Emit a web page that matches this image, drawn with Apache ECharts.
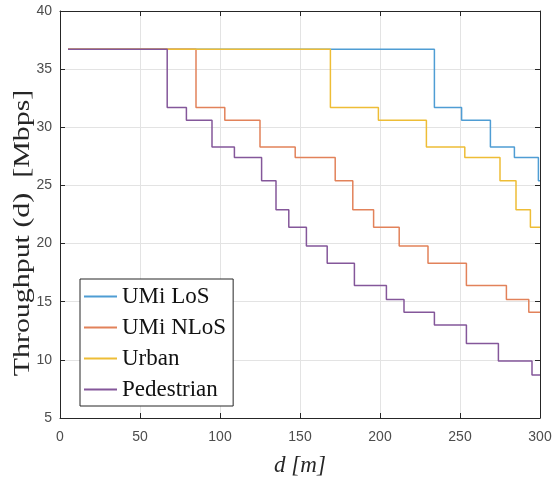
<!DOCTYPE html>
<html>
<head>
<meta charset="utf-8">
<script src="https://cdn.jsdelivr.net/npm/echarts@6/dist/echarts.min.js"></script>
<style>
  html, body { margin: 0; padding: 0; background: #ffffff; }
  #chart { width: 552px; height: 481px; }
</style>
</head>
<body>
<div id="chart"></div>
<script>
// Series names
const seriesNames = ['UMi LoS', 'UMi NLoS', 'Urban', 'Pedestrian'];

// Distance [m] at which each throughput level begins (last entry closes the curve at 300 m)
const losDist   = [5, 234, 251, 269, 284, 299, 300];
const losTput   = [36.7, 31.7, 30.6, 28.3, 27.4, 25.4, 25.4];

const nlosDist  = [5, 85, 103, 125, 147, 172, 183, 196, 212, 230, 254, 279, 293, 300];
const nlosTput  = [36.7, 31.7, 30.6, 28.3, 27.4, 25.4, 22.9, 21.4, 19.8, 18.3, 16.4, 15.2, 14.1, 14.1];

const urbanDist = [5, 169, 199, 229, 253, 275, 285, 294, 300];
const urbanTput = [36.7, 31.7, 30.6, 28.3, 27.4, 25.4, 22.9, 21.4, 21.4];

const pedDist   = [5, 67, 79, 95, 109, 126, 135, 143, 154, 167, 184, 204, 215, 234, 254, 274, 295, 300];
const pedTput   = [36.7, 31.7, 30.6, 28.3, 27.4, 25.4, 22.9, 21.4, 19.8, 18.3, 16.4, 15.2, 14.1, 13.0, 11.4, 9.9, 8.7, 8.7];

// Axis tick values
const xTicks = [0, 50, 100, 150, 200, 250, 300];
const yTicks = [5, 10, 15, 20, 25, 30, 35, 40];

// Axis titles
const xTitle = 'd [m]';
const yTitle = 'Throughput (d)  [Mbps]';

const colors = ['#4f9dd4', '#e2825a', '#eebd36', '#84579a'];

function pairs(xs, ys) { return xs.map((x, i) => [x, ys[i]]); }

const curves = [
  pairs(losDist, losTput),
  pairs(nlosDist, nlosTput),
  pairs(urbanDist, urbanTput),
  pairs(pedDist, pedTput)
];

const serif = 'Liberation Serif, Times New Roman, serif';
const tickFont = { fontFamily: 'Liberation Sans, Arial, sans-serif', fontSize: 14, color: '#4d4d4d' };
const axisCol = '#262626';
const gridCol = '#e3e3e3';

const chart = echarts.init(document.getElementById('chart'), null, { renderer: 'canvas' });

const xBase = {
  type: 'value', min: xTicks[0], max: xTicks[xTicks.length - 1], interval: 50,
  axisLine: { show: true, onZero: false, lineStyle: { color: axisCol, width: 1 } },
  axisTick: { show: true, inside: true, length: 5, lineStyle: { color: axisCol } }
};
const yBase = {
  type: 'value', min: yTicks[0], max: yTicks[yTicks.length - 1], interval: 5,
  axisLine: { show: true, onZero: false, lineStyle: { color: axisCol, width: 1 } },
  axisTick: { show: true, inside: true, length: 5, lineStyle: { color: axisCol } }
};

chart.setOption({
  animation: false,
  backgroundColor: '#ffffff',
  color: colors,
  grid: { left: 60, top: 11, width: 480, height: 407, containLabel: false, outerBoundsMode: 'none' },
  xAxis: [
    Object.assign({}, xBase, {
      position: 'bottom',
      name: xTitle,
      nameLocation: 'middle',
      nameGap: 36,
      nameMoveOverlap: false,
      nameTextStyle: { fontFamily: serif, fontStyle: 'italic', fontSize: 23, color: '#262626' },
      axisLabel: Object.assign({ margin: 12 }, tickFont),
      splitLine: { show: true, lineStyle: { color: gridCol, width: 1 } }
    }),
    Object.assign({}, xBase, {
      position: 'top',
      axisLabel: { show: false },
      splitLine: { show: false }
    })
  ],
  yAxis: [
    Object.assign({}, yBase, {
      position: 'left',
      axisLabel: Object.assign({ margin: 8 }, tickFont),
      splitLine: { show: true, lineStyle: { color: gridCol, width: 1 } }
    }),
    Object.assign({}, yBase, {
      position: 'right',
      axisLabel: { show: false },
      splitLine: { show: false }
    })
  ],
  // Vertical axis title, set in a tall narrow serif
  graphic: [{
    type: 'text',
    x: 23,
    y: 233,
    rotation: Math.PI / 2,
    scaleX: 1.3,
    style: {
      text: yTitle,
      font: '23px ' + serif,
      fill: '#262626',
      align: 'center',
      verticalAlign: 'middle'
    }
  }],
  legend: {
    orient: 'vertical',
    left: 80,
    top: 279,
    data: seriesNames,
    backgroundColor: '#ffffff',
    borderColor: axisCol,
    borderWidth: 1,
    padding: [6, 7, 5, 3],
    itemGap: 8,
    itemWidth: 33,
    itemHeight: 14,
    itemStyle: { opacity: 0 },
    textStyle: { fontFamily: serif, fontSize: 23, color: '#111111' }
  },
  series: seriesNames.map((name, i) => ({
    name: name,
    type: 'line',
    step: 'end',
    xAxisIndex: 0,
    yAxisIndex: 0,
    symbol: 'none',
    data: curves[i],
    z: 2 + i,
    lineStyle: { width: 1.5, color: colors[i] },
    itemStyle: { color: colors[i] }
  }))
});
</script>
</body>
</html>
